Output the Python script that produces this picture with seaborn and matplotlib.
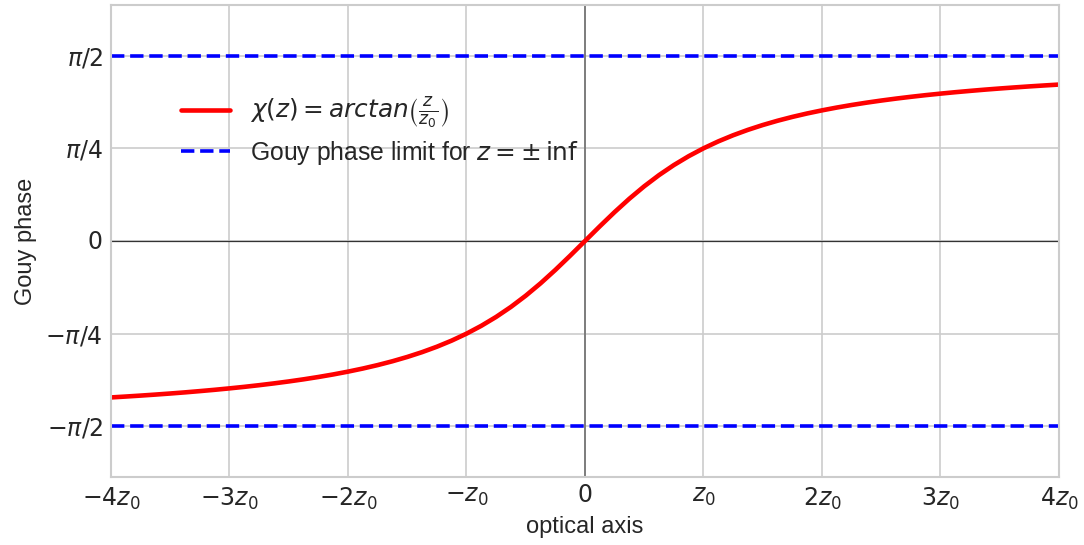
import numpy as np
import pandas as pd
import matplotlib
matplotlib.use("Agg")
import matplotlib.pyplot as plt
import seaborn as sns

# Data
z_values = [-4.0, -3.875, -3.75, -3.625, -3.5, -3.375, -3.25, -3.125, -3.0,
            -2.875, -2.75, -2.625, -2.5, -2.375, -2.25, -2.125, -2.0,
            -1.875, -1.75, -1.625, -1.5, -1.375, -1.25, -1.125, -1.0,
            -0.875, -0.75, -0.625, -0.5, -0.375, -0.25, -0.125, 0.0,
            0.125, 0.25, 0.375, 0.5, 0.625, 0.75, 0.875, 1.0,
            1.125, 1.25, 1.375, 1.5, 1.625, 1.75, 1.875, 2.0,
            2.125, 2.25, 2.375, 2.5, 2.625, 2.75, 2.875, 3.0,
            3.125, 3.25, 3.375, 3.5, 3.625, 3.75, 3.875, 4.0]
chi_values = [-1.3258, -1.3182, -1.3102, -1.3016, -1.2925, -1.2828, -1.2722, -1.2611, -1.2490,
              -1.2361, -1.2220, -1.2068, -1.1903, -1.1723, -1.1526, -1.1310, -1.1071,
              -1.0809, -1.0517, -1.0192, -0.9828, -0.9420, -0.8961, -0.8442, -0.7854,
              -0.7188, -0.6435, -0.5586, -0.4636, -0.3588, -0.2450, -0.1244, 0.0,
              0.1244, 0.2450, 0.3588, 0.4636, 0.5586, 0.6435, 0.7188, 0.7854,
              0.8442, 0.8961, 0.9420, 0.9828, 1.0192, 1.0517, 1.0809, 1.1071,
              1.1310, 1.1526, 1.1723, 1.1903, 1.2068, 1.2220, 1.2361, 1.2490,
              1.2611, 1.2722, 1.2828, 1.2925, 1.3016, 1.3102, 1.3182, 1.3258]
limit_z = [-4.0, 4.0]
limit_upper = [np.pi / 2, np.pi / 2]
limit_lower = [-np.pi / 2, -np.pi / 2]

x_ticks = [-4, -3, -2, -1, 0, 1, 2, 3, 4]
x_tick_labels = [r"$-4z_0$", r"$-3z_0$", r"$-2z_0$", r"$-z_0$", r"$0$",
                 r"$z_0$", r"$2z_0$", r"$3z_0$", r"$4z_0$"]
y_ticks = [-np.pi / 2, -np.pi / 4, 0, np.pi / 4, np.pi / 2]
y_tick_labels = [r"$-\pi/2$", r"$-\pi/4$", r"$0$", r"$\pi/4$", r"$\pi/2$"]

sns.set_style("whitegrid")
plt.rcParams['font.family'] = ['Liberation Sans', 'DejaVu Sans']
plt.rcParams['mathtext.fontset'] = 'dejavusans'

fig = plt.figure(figsize=(10.84, 5.45), dpi=100)
ax = fig.add_axes([0.1024, 0.1248, 0.8745, 0.866])

for s in ax.spines.values():
    s.set_color('#cccccc')
    s.set_linewidth(1.5)
ax.grid(True, color='#cccccc', linewidth=1.2)

ax.axhline(0, color='#333333', linewidth=0.9, zorder=1)
ax.axvline(0, color='#666666', linewidth=1.1, zorder=1)

curve = pd.DataFrame({"z": z_values, "chi": chi_values})
sns.lineplot(data=curve, x="z", y="chi", ax=ax, color='red', linewidth=3.3,
             label=r"$\chi(z) = arctan\left(\frac{z}{z_0}\right)$")
sns.lineplot(x=limit_z, y=limit_upper, ax=ax, color='blue', linewidth=2.6,
             linestyle='--', label=r"Gouy phase limit for $z = \pm\,\inf$")
sns.lineplot(x=limit_z, y=limit_lower, ax=ax, color='blue', linewidth=2.6,
             linestyle='--')

ax.set_xlim(-4, 4)
ax.set_ylim(-2, 2)
ax.set_xticks(x_ticks)
ax.set_xticklabels(x_tick_labels, fontsize=17)
ax.set_yticks(y_ticks)
ax.set_yticklabels(y_tick_labels, fontsize=17)
ax.tick_params(axis='both', length=0, pad=6, colors='#262626')
ax.set_xlabel("optical axis", fontsize=17, color='#262626', labelpad=3)
ax.set_ylabel("Gouy phase", fontsize=17, color='#262626', labelpad=6)

leg = ax.legend(loc='upper left', bbox_to_anchor=(0.05, 0.855), frameon=False,
                fontsize=17.8, handlelength=2.0, handletextpad=0.8,
                labelspacing=0.35)
for t in leg.get_texts():
    t.set_color('#262626')

fig.savefig("out.png", dpi=100)
